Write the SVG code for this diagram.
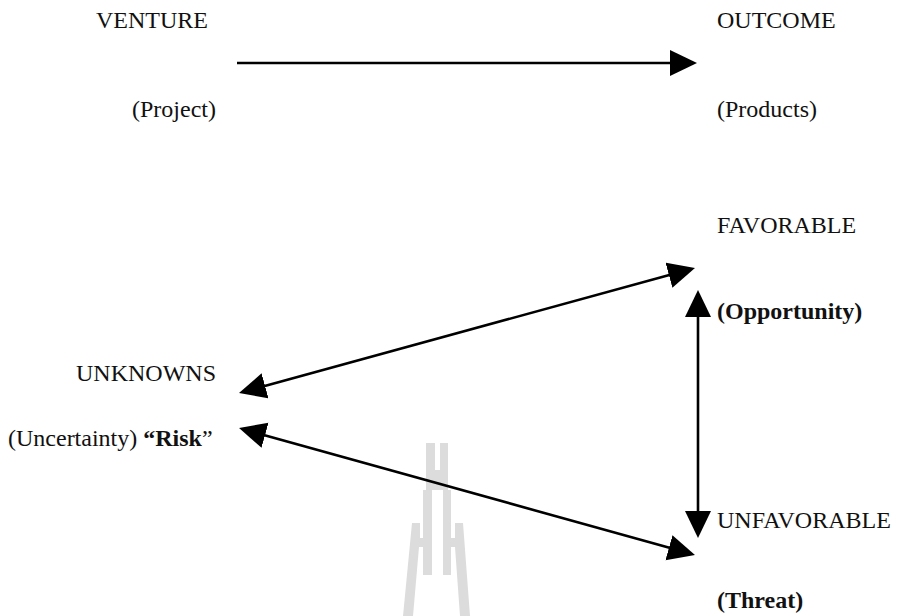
<svg xmlns="http://www.w3.org/2000/svg" width="903" height="616" viewBox="0 0 903 616">
<style>
text{font-family:"Liberation Serif","Times New Roman",serif;font-size:24px;fill:#111}
.b{font-weight:bold}
.c{stroke:#000;stroke-width:2.6;fill:none;marker-end:url(#ah)}
.d{marker-start:url(#ah)}
.wm{fill:#dcdcdc}
</style>
<defs>
<marker id="ah" markerUnits="userSpaceOnUse" markerWidth="28" markerHeight="27" refX="7" refY="13" orient="auto-start-reverse" viewBox="0 0 28 27">
<path d="M0,0 L27,13 L0,26 z" fill="#000"/>
</marker>
</defs>
<rect width="903" height="616" fill="#fff"/>
<g id="watermark">
<path class="wm" d="M426,443 L435,443 L435,470 L440,470 L440,443 L448,443 L448,490 L451,490 L451,575 L443,575 L443,490 L432,490 L432,575 L423,575 L423,490 L426,490 Z"/>
<path class="wm" d="M412,523 L420,523 L420,538 L423,538 L423,547 L419,547 L413,616 L403,616 Z"/>
<path class="wm" d="M455,523 L463,523 L470,616 L460,616 L455,547 L451,547 L451,538 L455,538 Z"/>
</g>
<g id="connectors">
<path class="c" d="M237,63 L677,63"/>
<path class="c d" d="M258.3,387.7 L675.7,273.3"/>
<path class="c d" d="M258.3,433.4 L675.7,549.6"/>
<path class="c d" d="M698,310 L698,518"/>
</g>
<g id="venture"><text x="96" y="28">VENTURE</text><text x="132" y="117">(Project)</text></g>
<g id="outcome"><text x="717" y="28">OUTCOME</text><text x="717" y="117">(Products)</text></g>
<g id="favorable"><text x="717" y="233">FAVORABLE</text><text class="b" x="717" y="319">(Opportunity)</text></g>
<g id="unknowns"><text x="76" y="381">UNKNOWNS</text><text x="8" y="446">(Uncertainty) <tspan class="b">“Risk</tspan>”</text></g>
<g id="unfavorable"><text x="717" y="528">UNFAVORABLE</text><text class="b" x="717" y="608">(Threat)</text></g>
</svg>
